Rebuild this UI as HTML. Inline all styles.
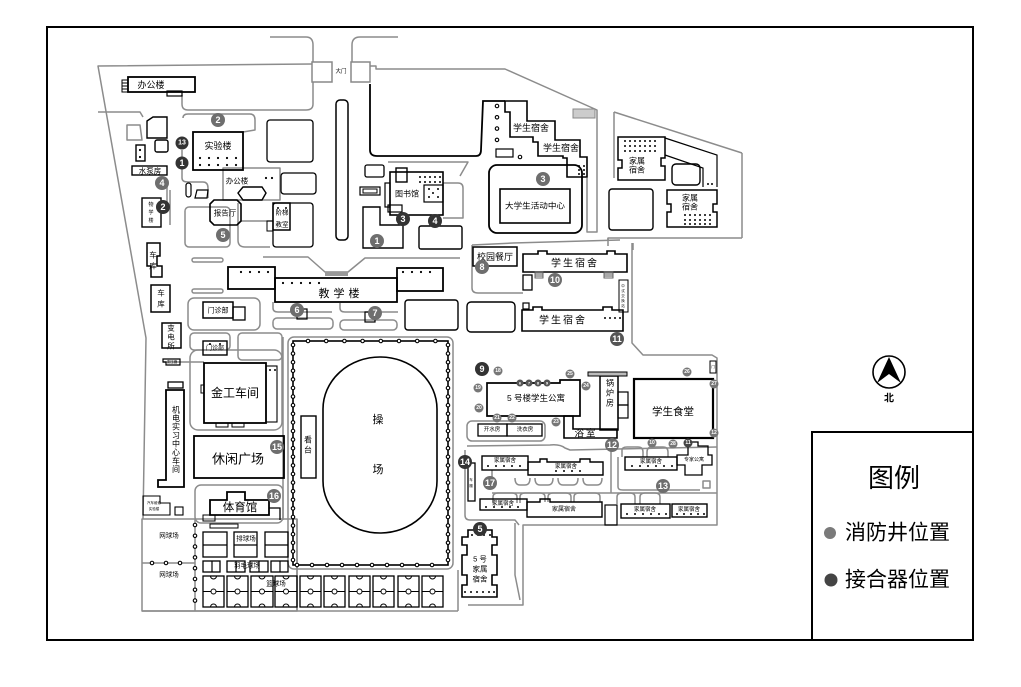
<!DOCTYPE html>
<html><head><meta charset="utf-8"><style>
html,body{margin:0;padding:0;background:#fff;}
svg{display:block;}
text{font-family:"Liberation Sans","Noto Sans CJK SC",sans-serif;}
</style></head><body>
<svg width="1021" height="687" viewBox="0 0 1021 687" xmlns="http://www.w3.org/2000/svg">
<rect width="1021" height="687" fill="#fff"/>
<!-- frame -->
<rect x="47" y="27" width="926" height="613" fill="none" stroke="#000" stroke-width="2"/>
<rect x="812" y="432" width="161" height="208" fill="none" stroke="#000" stroke-width="2"/>

<!-- ROADS (gray) -->
<g fill="none" stroke="#8c8c8c" stroke-width="1.5" stroke-linejoin="round">
 <path d="M312,64 L98,66 L146,338 L143,519"/>
 <path d="M270,37 L306,37 Q313,37 313,45 L313,62"/>
 <path d="M313,82 L313,104 Q313,110 306,110 L188,110 Q182,110 182,104 L182,95"/>
 <path d="M398,37 L360,37 Q352,37 352,45 L352,62"/>
 <path d="M370,66 L376,66 L376,69 L505,69 L597,110 L597,232 L587,232 L587,178"/>
 <path d="M98,112 L140,112 L143,117"/>
 <path d="M127,125 L140,125 L142,140 L127,140 Z"/>
 <path d="M183,118 Q183,114 188,114 L250,114 Q255,114 255,120 L255,130 L243,132"/>
 <path d="M182,150 L182,178 Q182,182 188,182 L203,182 Q208,182 208,188 L208,198"/>
 <rect x="223" y="168" width="57" height="32"/>
 <rect x="185" y="207" width="45" height="40" rx="4"/>
 <path d="M238,203 L238,240 Q238,247 245,247 L270,247"/>
 <path d="M241,221 L273,221"/>
 <path d="M167,183 L167,210 M170,190 L170,225"/>
 <path d="M388,162 L468,162 L460,176"/>
 <path d="M443,183 L458,183 Q463,183 463,188 L463,218 L443,218"/>
 <path d="M263,257 L308,257 L325,272 L348,272 L365,258 L460,258"/>
 <rect x="192" y="258" width="31" height="4" rx="2"/>
 <rect x="192" y="289" width="31" height="4" rx="2"/>
 <rect x="188" y="298" width="72" height="32" rx="6"/>
 <path d="M273,302 L273,308 Q273,312 278,312 L332,312"/>
 <path d="M340,303 L340,308 Q340,312 345,312 L398,312"/>
 <rect x="273" y="318" width="60" height="11" rx="4"/>
 <rect x="340" y="320" width="57" height="10" rx="4"/>
 <rect x="190" y="333" width="40" height="17" rx="4"/>
 <rect x="238" y="333" width="44" height="27" rx="4"/>
 <rect x="190" y="350" width="92" height="80" rx="8"/>
 <path d="M163,362 L204,362"/>
 <path d="M283,337 L283,520"/>
 <rect x="195" y="485" width="88" height="38" rx="6"/>
 <rect x="288" y="337" width="165" height="232" rx="6"/>
 <rect x="142" y="519" width="155" height="92"/>
 <path d="M195,519 L195,611 M142,563 L195,563 M142,611 L458,611"/>
 <path d="M458,611 L458,570 M297,519 L297,611"/>
 <!-- right center roads -->
 <path d="M513,243 L620,240 M608,241 L608,238 L742,238 M742,153 L742,238"/>
 <path d="M472,245 L472,288 Q472,293 478,293 L523,293 M472,245 L513,243"/>
 <path d="M632,243 L632,343 L643,355 L712,355 L717,358 L717,525 L523,525 L523,605 L468,605"/>
 <path d="M614,112 L742,153 M614,112 L614,178"/>
 <path d="M608,246 L608,238 M633,243 L633,250"/>
 <rect x="467" y="421" width="78" height="20" rx="5"/>
 <path d="M467,446 L550,445 Q560,444 565,448 L570,450 L717,447"/>
 <path d="M465,450 L465,515 Q465,520 470,520 L515,520 L519,525"/>
 <path d="M515,523 L515,575 L520,600"/>
 <path d="M611,447 L611,493 M492,493 L717,493"/>
 <path d="M492,478 L492,470 M515,478 Q515,485 520,485 L525,485 Q530,485 530,478 M535,478 Q535,485 540,485 L548,485 Q553,485 553,478 M558,478 Q558,485 563,485 L573,485 Q578,485 578,478 M583,478 Q583,485 588,485 L597,485 Q602,485 602,478"/>
 <path d="M493,503 L493,497 Q493,493 498,493 L512,493 Q517,493 517,497 L517,503 M520,503 L520,497 Q520,493 525,493 L540,493 Q545,493 545,497 L545,502 M548,502 L548,497 Q548,493 553,493 L566,493 Q571,493 571,497 L571,502 M574,502 L574,497 Q574,493 579,493 L595,493 Q600,493 600,497 L600,502 M617,504 L617,497 Q617,493 622,493 L630,493 Q635,493 635,497 L635,504 M640,504 L640,497 Q640,493 645,493 L655,493 Q660,493 660,497 L660,504"/>
 <path d="M622,457 L622,450 Q622,447 627,447 L638,447 Q643,447 643,452 L643,457 M647,457 L647,452 Q647,447 652,447 L663,447 Q668,447 668,452 L668,457"/>
 <path d="M618,457 L618,487 Q618,490 623,490 L700,490"/>
 <rect x="703" y="481" width="7" height="7"/>
</g>

<!-- BUILDINGS black -->
<g fill="none" stroke="#000" stroke-width="1.8" stroke-linejoin="miter">
 <rect x="128" y="77" width="67" height="15"/>
 <rect x="122" y="80" width="6" height="12" stroke-width="1"/>
 <path d="M122,83 L128,83 M122,86 L128,86 M122,89 L128,89" stroke-width="1"/>
 <rect x="167" y="91" width="15" height="5" stroke-width="1.2"/>
 <rect x="193" y="132" width="50" height="38"/>
 <path d="M147,121 L153,117 L167,117 L167,138 L147,138 Z" stroke-width="1.4"/>
 <rect x="155" y="140" width="13" height="12" rx="2" stroke-width="1.4"/>
 <rect x="136" y="145" width="9" height="16" stroke-width="1.4"/>
 <rect x="132" y="166" width="35" height="9" stroke-width="1.4"/>
 <rect x="142" y="198" width="19" height="29" stroke-width="1.4"/>
 <rect x="186" y="183" width="5" height="14" rx="2.5" stroke-width="1.2"/>
 <path d="M197,190 L208,190 L207,198 L195,198 Z" stroke-width="1.2"/>
 <polygon points="214,200 237,200 241,204 241,221 237,225 214,225 210,221 210,204" stroke-width="1.6"/>
 <polygon points="243,187 262,187 266,193 262,200 243,200 238,193" stroke-width="1.4"/>
 <rect x="273" y="203" width="17" height="27" stroke-width="1.5"/>
 <rect x="267" y="221" width="6" height="10" stroke-width="1"/>
 <rect x="267" y="120" width="46" height="42" rx="3" stroke-width="1.3"/>
 <rect x="281" y="173" width="35" height="21" rx="3" stroke-width="1.3"/>
 <rect x="273" y="203" width="40" height="44" rx="3" stroke-width="1.3"/>
 <rect x="336" y="100" width="12" height="140" rx="4" stroke-width="1.5"/>
 <path d="M370,84 L370,150 Q370,156 377,156 L476,156 Q481,156 481,150 L483,101 L505,101" stroke-width="1.8"/>
 <polygon points="505,101 527,101 527,121 555,121 555,140 580,140 580,157 587,157 587,177 567,177 567,158 563,158 563,156 538,156 538,142 533,142 533,137 510,137 510,112 505,112" stroke-width="1.6"/>
 <rect x="496" y="149" width="17" height="8" stroke-width="1.2"/>
 <rect x="489" y="165" width="93" height="68" rx="8"/>
 <rect x="500" y="189" width="70" height="34" stroke-width="1.6"/>
 <!-- library -->
 <rect x="390" y="172" width="53" height="43" stroke-width="1.6"/>
 <rect x="396" y="168" width="11" height="14" stroke-width="1.4"/>
 <rect x="385" y="183" width="5" height="24" stroke-width="1.2"/>
 <rect x="388" y="205" width="14" height="7" stroke-width="1.2"/>
 <rect x="424" y="185" width="19" height="17" stroke-width="1.2"/>
 <rect x="360" y="187" width="20" height="8" stroke-width="1.2"/>
 <rect x="363" y="189" width="14" height="4" stroke-width="1"/>
 <rect x="365" y="165" width="19" height="12" rx="2" stroke-width="1.3"/>
 <path d="M363,207 L380,207 L380,225 L403,225 L403,248 L363,248 Z" stroke-width="1.4"/>
 <rect x="419" y="226" width="43" height="23" rx="2" stroke-width="1.4"/>
 <rect x="405" y="300" width="53" height="30" rx="3" stroke-width="1.4"/>
 <rect x="467" y="302" width="48" height="30" rx="4" stroke-width="1.4"/>
 <!-- top right family -->
 <path d="M618,137 L665,137 L665,158 L661,158 L661,166 L665,166 L665,180 L618,180 L618,168 L622,168 L622,160 L618,160 Z" stroke-width="1.5"/>
 <path d="M665,138 L717,155 L717,187 M665,155 L703,168 L703,187" stroke-width="1.2"/>
 <rect x="672" y="164" width="28" height="21" rx="4" stroke-width="1.4"/>
 <path d="M667,190 L717,190 L717,204 L713,204 L713,212 L717,212 L717,227 L667,227 L667,212 L671,212 L671,204 L667,204 Z" stroke-width="1.5"/>
 <rect x="609" y="189" width="44" height="41" rx="3" stroke-width="1.4"/>
 <!-- teaching building -->
 <rect x="275" y="278" width="122" height="24"/>
 <rect x="228" y="267" width="47" height="22"/>
 <rect x="397" y="268" width="46" height="23"/>
 <rect x="297" y="309" width="10" height="10" stroke-width="1.2"/>
 <rect x="365" y="312" width="10" height="10" stroke-width="1.2"/>
 <rect x="203" y="302" width="30" height="16" stroke-width="1.5"/>
 <rect x="233" y="307" width="12" height="13" stroke-width="1.3"/>
 <path d="M147,243 L160,243 L160,256 L157,256 L157,266 L162,266 L162,277 L151,277 L151,266 L147,266 Z" stroke-width="1.5"/>
 <rect x="151" y="285" width="19" height="27" stroke-width="1.5"/>
 <rect x="162" y="323" width="19" height="25" stroke-width="1.5"/>
 <rect x="203" y="341" width="24" height="14" stroke-width="1.4"/>
 <path d="M163,359 L180,359 L180,365 L166,365 L166,362 L163,362 Z" stroke-width="1.2"/>
 <!-- left middle -->
 <rect x="204" y="363" width="62" height="60"/>
 <rect x="266" y="366" width="11" height="56" stroke-width="1.1"/>
 <rect x="201" y="385" width="3" height="8" stroke-width="1"/>
 <rect x="216" y="423" width="12" height="4" stroke-width="1"/>
 <rect x="232" y="423" width="12" height="4" stroke-width="1"/>
 <rect x="194" y="436" width="90" height="42"/>
 <path d="M227,492 L245,492 L245,500 L269,500 L269,515 L210,515 L210,500 L227,500 Z" stroke-width="1.8"/>
 <rect x="203" y="515" width="12" height="6" stroke-width="1"/>
 <path d="M269,508 L280,508 L280,520" stroke-width="1.3"/>
 <path d="M166,390 L184,390 L184,487 L158,487 L158,480 L166,480 Z" stroke-width="1.8"/>
 <rect x="168" y="382" width="15" height="6" stroke-width="1.3"/>
 <path d="M143,496 L160,496 L160,503 L170,503 L170,515 L143,515 Z" stroke-width="1.1"/>
 <rect x="175" y="507" width="8" height="8" stroke-width="1.1"/>
 <rect x="301" y="416" width="15" height="62" stroke-width="1.4"/>
 <!-- stadium track -->
 <rect x="323" y="357" width="114" height="176" rx="57" ry="52" stroke-width="1.6"/>
 <!-- courts -->
 <rect x="210" y="524" width="28" height="4" stroke-width="1"/>
 <rect x="203" y="532" width="24" height="25" stroke-width="1.3"/>
 <rect x="234" y="532" width="23" height="25" stroke-width="1.3"/>
 <rect x="265" y="532" width="23" height="25" stroke-width="1.3"/>
 <path d="M203,545 L227,545 M234,545 L257,545 M265,545 L288,545" stroke-width="1.2"/>
 <rect x="203" y="561" width="17" height="11" stroke-width="1.3"/>
 <rect x="227" y="561" width="18" height="11" stroke-width="1.3"/>
 <rect x="250" y="561" width="18" height="11" stroke-width="1.3"/>
 <rect x="271" y="561" width="17" height="11" stroke-width="1.3"/>
 <path d="M212,561 L212,572 M236,561 L236,572 M259,561 L259,572 M280,561 L280,572" stroke-width="1.2"/>
 <!-- right center -->
 <rect x="473" y="247" width="44" height="19" stroke-width="1.5"/>
 <polygon points="523,254 538,254 538,251 547,251 547,254 607,254 607,251 615,251 615,254 627,254 627,272 523,272" stroke-width="1.6"/>
 <rect x="523" y="275" width="9" height="15" stroke-width="1.3"/>
 <polygon points="522,310 533,310 533,307 542,307 542,310 603,310 603,307 612,307 612,310 623,310 623,331 522,331" stroke-width="1.6"/>
 <rect x="523" y="303" width="6" height="6" stroke-width="1.2"/>
 <rect x="619" y="280" width="9" height="32" stroke-width="1"/>
 <rect x="710" y="361" width="6" height="12" stroke-width="1"/>
 <polygon points="487,383 560,383 560,380 580,380 580,416 487,416" stroke-width="1.7"/>
 <rect x="478" y="424" width="29" height="12" stroke-width="1.3"/>
 <rect x="507" y="424" width="35" height="12" stroke-width="1.3"/>
 <polygon points="564,416 573,416 573,429 617,429 617,438 564,438" stroke-width="1.6"/>
 <rect x="600" y="376" width="18" height="54" stroke-width="1.5"/>
 <rect x="588" y="372" width="39" height="4" stroke-width="1" fill="#bbb"/>
 <rect x="618" y="392" width="10" height="13" stroke-width="1.2"/>
 <rect x="618" y="405" width="10" height="13" stroke-width="1.2"/>
 <rect x="634" y="379" width="79" height="59" stroke-width="2.2"/>
 <rect x="625" y="457" width="52" height="13" stroke-width="1.4"/>
 <polygon points="688,442 698,442 698,446 708,446 708,455 712,455 712,465 702,465 702,475 685,475 685,465 677,465 677,455 688,455" stroke-width="1.3"/>
 <rect x="482" y="456" width="46" height="14" stroke-width="1.4"/>
 <polygon points="528,462 540,462 540,459 547,459 547,462 580,462 580,459 590,459 590,462 603,462 603,475 528,475" stroke-width="1.4"/>
 <rect x="468" y="463" width="7" height="38" stroke-width="1.3"/>
 <rect x="480" y="499" width="47" height="11" stroke-width="1.4"/>
 <polygon points="527,502 540,502 540,499 550,499 550,502 602,502 602,517 527,517" stroke-width="1.4"/>
 <rect x="605" y="505" width="12" height="20" stroke-width="1.2"/>
 <rect x="621" y="504" width="49" height="14" stroke-width="1.4"/>
 <rect x="672" y="504" width="35" height="13" stroke-width="1.4"/>
 <polygon points="468,530 492,530 492,537 497,537 497,545 492,545 492,555 497,555 497,575 492,575 492,585 497,585 497,597 462,597 462,585 467,585 467,575 462,575 462,555 467,555 467,545 462,545 462,537 468,537" stroke-width="1.6"/>
</g>

<!-- basketball courts -->
<g fill="none" stroke="#000" stroke-width="1.3">
 <rect x="203" y="576" width="21" height="31"/><rect x="227" y="576" width="21" height="31"/>
 <rect x="251" y="576" width="22" height="31"/><rect x="275" y="576" width="22" height="31"/>
 <rect x="300" y="576" width="21" height="31"/><rect x="324" y="576" width="21" height="31"/>
 <rect x="349" y="576" width="21" height="31"/><rect x="373" y="576" width="21" height="31"/>
 <rect x="398" y="576" width="21" height="31"/><rect x="422" y="576" width="21" height="31"/>
 <path stroke-width="1" d="M203,591.5 h21 M227,591.5 h21 M251,591.5 h22 M275,591.5 h22 M300,591.5 h21 M324,591.5 h21 M349,591.5 h21 M373,591.5 h21 M398,591.5 h21 M422,591.5 h21"/>
 <path stroke-width="1" d="M210.5,576 a3,3 0 0 0 6,0 M234.5,576 a3,3 0 0 0 6,0 M259,576 a3,3 0 0 0 6,0 M283,576 a3,3 0 0 0 6,0 M307.5,576 a3,3 0 0 0 6,0 M331.5,576 a3,3 0 0 0 6,0 M356.5,576 a3,3 0 0 0 6,0 M380.5,576 a3,3 0 0 0 6,0 M405.5,576 a3,3 0 0 0 6,0 M429.5,576 a3,3 0 0 0 6,0"/>
 <path stroke-width="1" d="M210.5,607 a3,3 0 0 1 6,0 M234.5,607 a3,3 0 0 1 6,0 M259,607 a3,3 0 0 1 6,0 M283,607 a3,3 0 0 1 6,0 M307.5,607 a3,3 0 0 1 6,0 M331.5,607 a3,3 0 0 1 6,0 M356.5,607 a3,3 0 0 1 6,0 M380.5,607 a3,3 0 0 1 6,0 M405.5,607 a3,3 0 0 1 6,0 M429.5,607 a3,3 0 0 1 6,0"/>
 <g fill="#fff" stroke-width="1">
  <circle cx="213.5" cy="591.5" r="2.5"/><circle cx="237.5" cy="591.5" r="2.5"/><circle cx="262" cy="591.5" r="2.5"/><circle cx="286" cy="591.5" r="2.5"/><circle cx="310.5" cy="591.5" r="2.5"/><circle cx="334.5" cy="591.5" r="2.5"/><circle cx="359.5" cy="591.5" r="2.5"/><circle cx="383.5" cy="591.5" r="2.5"/><circle cx="408.5" cy="591.5" r="2.5"/><circle cx="432.5" cy="591.5" r="2.5"/>
 </g>
</g>

<!-- stadium fence with hydrant rings -->
<g fill="none" stroke-linecap="round">
 <rect x="293" y="341" width="155" height="224" stroke="#000" stroke-width="1.6"/>
 <g stroke="#000" stroke-width="4.6">
  <path d="M293,345 L293,562" stroke-dasharray="0 8.6"/>
  <path d="M448,345 L448,562" stroke-dasharray="0 8.6"/>
  <path d="M308,341 L436,341" stroke-dasharray="0 18.2"/>
  <path d="M297,565 L447,565" stroke-dasharray="0 15"/>
  <path d="M195,525 L195,601" stroke-dasharray="0 10.8"/>
  <path d="M152,563 L182,563" stroke-dasharray="0 14"/>
  <path d="M497,106 L497,140" stroke-dasharray="0 11.3"/>
  <path d="M520,157 L530,157" stroke-dasharray="0 10"/>
 </g>
 <g stroke="#fff" stroke-width="2.4">
  <path d="M293,345 L293,562" stroke-dasharray="0 8.6"/>
  <path d="M448,345 L448,562" stroke-dasharray="0 8.6"/>
  <path d="M308,341 L436,341" stroke-dasharray="0 18.2"/>
  <path d="M297,565 L447,565" stroke-dasharray="0 15"/>
  <path d="M195,525 L195,601" stroke-dasharray="0 10.8"/>
  <path d="M152,563 L182,563" stroke-dasharray="0 14"/>
  <path d="M497,106 L497,140" stroke-dasharray="0 11.3"/>
  <path d="M520,157 L530,157" stroke-dasharray="0 10"/>
 </g>
</g>

<!-- gray strips -->
<rect x="325" y="272" width="23" height="4" fill="#999"/>
<rect x="573" y="109" width="22" height="9" fill="#ccc" stroke="#888" stroke-width="1"/>
<rect x="312" y="62" width="20" height="20" fill="none" stroke="#888" stroke-width="1.5"/>
<rect x="351" y="62" width="19" height="20" fill="none" stroke="#888" stroke-width="1.5"/>
<g fill="none" stroke="#555" stroke-width="0.9">
 <rect x="535" y="272" width="8" height="6"/><rect x="604" y="272" width="9" height="6"/>
 <path d="M535,274 h8 M535,276 h8 M604,274 h9 M604,276 h9"/>
</g>

<!-- small black dots -->
<g fill="#000">
 <circle cx="200" cy="158" r="1.1"/><circle cx="209" cy="158" r="1.1"/><circle cx="218" cy="158" r="1.1"/><circle cx="227" cy="158" r="1.1"/><circle cx="236" cy="158" r="1.1"/>
 <circle cx="200" cy="165" r="1.1"/><circle cx="209" cy="165" r="1.1"/><circle cx="218" cy="165" r="1.1"/><circle cx="227" cy="165" r="1.1"/><circle cx="236" cy="165" r="1.1"/>
 <circle cx="140" cy="150" r="1.1"/><circle cx="140" cy="157" r="1.1"/>
 <circle cx="266" cy="178" r="1.1"/><circle cx="272" cy="178" r="1.1"/>
 <circle cx="278" cy="208" r="1"/><circle cx="286" cy="208" r="1"/>
 <circle cx="420" cy="177" r="1"/><circle cx="425" cy="177" r="1"/><circle cx="430" cy="177" r="1"/><circle cx="435" cy="177" r="1"/><circle cx="440" cy="177" r="1"/>
 <circle cx="420" cy="182" r="1"/><circle cx="425" cy="182" r="1"/><circle cx="430" cy="182" r="1"/><circle cx="435" cy="182" r="1"/><circle cx="440" cy="182" r="1"/>
 <circle cx="429" cy="189" r="1"/><circle cx="438" cy="189" r="1"/><circle cx="433" cy="193" r="1"/><circle cx="429" cy="197" r="1"/><circle cx="438" cy="197" r="1"/>
 <circle cx="579" cy="166" r="1"/><circle cx="584" cy="166" r="1"/><circle cx="579" cy="170" r="1"/><circle cx="584" cy="170" r="1"/><circle cx="579" cy="174" r="1"/><circle cx="584" cy="174" r="1"/>
 <circle cx="625" cy="141" r="1"/><circle cx="630" cy="141" r="1"/><circle cx="635" cy="141" r="1"/><circle cx="640" cy="141" r="1"/><circle cx="645" cy="141" r="1"/><circle cx="650" cy="141" r="1"/><circle cx="655" cy="141" r="1"/>
 <circle cx="625" cy="146" r="1"/><circle cx="630" cy="146" r="1"/><circle cx="635" cy="146" r="1"/><circle cx="640" cy="146" r="1"/><circle cx="645" cy="146" r="1"/><circle cx="650" cy="146" r="1"/><circle cx="655" cy="146" r="1"/>
 <circle cx="625" cy="151" r="1"/><circle cx="630" cy="151" r="1"/><circle cx="635" cy="151" r="1"/><circle cx="640" cy="151" r="1"/><circle cx="645" cy="151" r="1"/><circle cx="650" cy="151" r="1"/><circle cx="655" cy="151" r="1"/>
 <circle cx="685" cy="215" r="1"/><circle cx="690" cy="215" r="1"/><circle cx="695" cy="215" r="1"/><circle cx="700" cy="215" r="1"/><circle cx="705" cy="215" r="1"/><circle cx="710" cy="215" r="1"/>
 <circle cx="685" cy="220" r="1"/><circle cx="690" cy="220" r="1"/><circle cx="695" cy="220" r="1"/><circle cx="700" cy="220" r="1"/><circle cx="705" cy="220" r="1"/><circle cx="710" cy="220" r="1"/>
 <circle cx="685" cy="224" r="1"/><circle cx="690" cy="224" r="1"/><circle cx="695" cy="224" r="1"/><circle cx="700" cy="224" r="1"/><circle cx="705" cy="224" r="1"/><circle cx="710" cy="224" r="1"/>
 <circle cx="708" cy="184" r="1"/><circle cx="712" cy="184" r="1"/>
 <circle cx="241" cy="272" r="1.1"/><circle cx="250" cy="272" r="1.1"/><circle cx="259" cy="272" r="1.1"/><circle cx="268" cy="272" r="1.1"/>
 <circle cx="283" cy="283" r="1.1"/><circle cx="292" cy="283" r="1.1"/><circle cx="301" cy="283" r="1.1"/><circle cx="310" cy="283" r="1.1"/><circle cx="319" cy="283" r="1.1"/>
 <circle cx="403" cy="272" r="1.1"/><circle cx="412" cy="272" r="1.1"/><circle cx="421" cy="272" r="1.1"/><circle cx="430" cy="272" r="1.1"/>
 <circle cx="210" cy="344" r="1"/><circle cx="220" cy="344" r="1"/>
 <circle cx="270" cy="370" r="1"/><circle cx="275" cy="370" r="1"/>
 <circle cx="605" cy="318" r="1"/><circle cx="610" cy="318" r="1"/><circle cx="615" cy="318" r="1"/><circle cx="620" cy="318" r="1"/>
 <circle cx="632" cy="466" r="1"/><circle cx="640" cy="466" r="1"/><circle cx="648" cy="466" r="1"/><circle cx="656" cy="466" r="1"/><circle cx="664" cy="466" r="1"/><circle cx="672" cy="466" r="1"/>
 <circle cx="488" cy="466" r="1"/><circle cx="496" cy="466" r="1"/><circle cx="504" cy="466" r="1"/><circle cx="512" cy="466" r="1"/><circle cx="520" cy="466" r="1"/>
 <circle cx="556" cy="471" r="1"/><circle cx="564" cy="471" r="1"/><circle cx="572" cy="471" r="1"/><circle cx="580" cy="471" r="1"/>
 <circle cx="486" cy="507" r="1"/><circle cx="494" cy="507" r="1"/><circle cx="502" cy="507" r="1"/><circle cx="510" cy="507" r="1"/><circle cx="518" cy="507" r="1"/>
 <circle cx="627" cy="514" r="1"/><circle cx="635" cy="514" r="1"/><circle cx="643" cy="514" r="1"/><circle cx="651" cy="514" r="1"/><circle cx="659" cy="514" r="1"/><circle cx="666" cy="514" r="1"/>
 <circle cx="677" cy="514" r="1"/><circle cx="684" cy="514" r="1"/><circle cx="691" cy="514" r="1"/><circle cx="698" cy="514" r="1"/><circle cx="704" cy="514" r="1"/>
 <circle cx="472" cy="535" r="1"/><circle cx="478" cy="535" r="1"/><circle cx="484" cy="535" r="1"/><circle cx="490" cy="535" r="1"/>
 <circle cx="465" cy="592" r="1"/><circle cx="471" cy="592" r="1"/><circle cx="477" cy="592" r="1"/><circle cx="483" cy="592" r="1"/><circle cx="489" cy="592" r="1"/><circle cx="494" cy="592" r="1"/>
</g>

<!-- LABELS -->
<g fill="#000" text-anchor="middle" dominant-baseline="central">
 <text x="151" y="85" font-size="9">办公楼</text>
 <text x="218" y="146" font-size="9">实验楼</text>
 <text x="150" y="171" font-size="7.5">水泵房</text>
 <text x="237" y="181" font-size="7.5">办公楼</text>
 <text x="225" y="213" font-size="7.5">报告厅</text>
 <text x="282" y="213" font-size="6.5">阶梯</text>
 <text x="282" y="225" font-size="6.5">教室</text>
 <text x="151" y="205" font-size="5">物</text><text x="151" y="213" font-size="5">学</text><text x="151" y="221" font-size="5">楼</text>
 <text x="341" y="72" font-size="5.5">大门</text>
 <text x="407" y="194" font-size="8">图书馆</text>
 <text x="531" y="128" font-size="9">学生宿舍</text>
 <text x="561" y="148" font-size="9">学生宿舍</text>
 <text x="535" y="206" font-size="8" textLength="60" lengthAdjust="spacingAndGlyphs">大学生活动中心</text>
 <text x="637" y="161" font-size="8">家属</text><text x="637" y="170" font-size="8">宿舍</text>
 <text x="690" y="198" font-size="8">家属</text><text x="690" y="207" font-size="8">宿舍</text>
 <text x="495" y="257" font-size="9">校园餐厅</text>
 <text x="575" y="264" font-size="10" letter-spacing="2">学生宿舍</text>
 <text x="563" y="321" font-size="10" letter-spacing="2">学生宿舍</text>
 <text x="623" y="286" font-size="3.5">中</text><text x="623" y="291" font-size="3.5">试</text><text x="623" y="296" font-size="3.5">交</text><text x="623" y="301" font-size="3.5">换</text><text x="623" y="306" font-size="3.5">站</text>
 <text x="341" y="294" font-size="11" letter-spacing="4">教学楼</text>
 <text x="218" y="311" font-size="7">门诊部</text>
 <text x="215" y="349" font-size="6">门诊部</text>
 <text x="153" y="255" font-size="7.5">车</text><text x="153" y="266" font-size="7.5">库</text>
 <text x="161" y="293" font-size="7.5">车</text><text x="161" y="304" font-size="7.5">库</text>
 <text x="171" y="328" font-size="7.5">变</text><text x="171" y="337" font-size="7.5">电</text><text x="171" y="346" font-size="7.5">所</text>
 <text x="172" y="362" font-size="3.5">变压器</text>
 <text x="235" y="393" font-size="12">金工车间</text>
 <text x="176" y="410" font-size="8">机</text><text x="176" y="418.5" font-size="8">电</text><text x="176" y="427" font-size="8">实</text><text x="176" y="435.5" font-size="8">习</text><text x="176" y="444" font-size="8">中</text><text x="176" y="452.5" font-size="8">心</text><text x="176" y="461" font-size="8">车</text><text x="176" y="469.5" font-size="8">间</text>
 <text x="238" y="459" font-size="13">休闲广场</text>
 <text x="240" y="508" font-size="11.5">体育馆</text>
 <text x="154" y="503" font-size="3.5">汽车维修</text>
 <text x="154" y="509" font-size="3.5">实验楼</text>
 <text x="308" y="440" font-size="8">看</text><text x="308" y="450" font-size="8">台</text>
 <text x="378" y="420" font-size="11">操</text>
 <text x="378" y="470" font-size="11">场</text>
 <text x="169" y="536" font-size="6.5">网球场</text>
 <text x="169" y="575" font-size="6.5">网球场</text>
 <text x="246" y="539" font-size="6.5">排球场</text>
 <text x="247" y="566" font-size="6.5">羽毛球场</text>
 <text x="276" y="584" font-size="6.5">篮球场</text>
 <text x="536" y="398" font-size="8.5">5 号楼学生公寓</text>
 <text x="492" y="430" font-size="5.5">开水房</text>
 <text x="525" y="430" font-size="5.5">洗衣房</text>
 <text x="610" y="383" font-size="8">锅</text><text x="610" y="393" font-size="8">炉</text><text x="610" y="403" font-size="8">房</text>
 <text x="586" y="434" font-size="9.5" letter-spacing="2">浴室</text>
 <text x="673" y="412" font-size="10.5">学生食堂</text>
 <text x="651" y="462" font-size="5.5">家属宿舍</text>
 <text x="694" y="460" font-size="5">专家公寓</text>
 <text x="505" y="461" font-size="5.5">家属宿舍</text>
 <text x="566" y="467" font-size="5.5">家属宿舍</text>
 <text x="503" y="504" font-size="5.5">家属宿舍</text>
 <text x="564" y="510" font-size="6">家属宿舍</text>
 <text x="645" y="510" font-size="5.5">家属宿舍</text>
 <text x="689" y="510" font-size="5.5">家属宿舍</text>
 <text x="471" y="480" font-size="3.5">车</text><text x="471" y="486" font-size="3.5">棚</text>
 <text x="713" y="367" font-size="3.5">门</text>
 <text x="480" y="559" font-size="7.5">5 号</text>
 <text x="480" y="569" font-size="7.5">家属</text>
 <text x="480" y="579" font-size="7.5">宿舍</text>
</g>

<!-- numbered markers -->
<g text-anchor="middle" dominant-baseline="central" font-weight="bold" fill="#fff">
 <g font-size="9">
  <circle cx="218" cy="120" r="7" fill="#6e6e6e"/><text x="218" y="120">2</text>
  <circle cx="162" cy="183" r="7" fill="#6e6e6e"/><text x="162" y="183">4</text>
  <circle cx="223" cy="235" r="7" fill="#6e6e6e"/><text x="223" y="235">5</text>
  <circle cx="543" cy="179" r="7" fill="#6e6e6e"/><text x="543" y="179">3</text>
  <circle cx="377" cy="241" r="7" fill="#6e6e6e"/><text x="377" y="241">1</text>
  <circle cx="297" cy="310" r="7" fill="#6e6e6e"/><text x="297" y="310">6</text>
  <circle cx="375" cy="313" r="7" fill="#6e6e6e"/><text x="375" y="313">7</text>
  <circle cx="482" cy="267" r="7" fill="#6e6e6e"/><text x="482" y="267">8</text>
  <circle cx="555" cy="280" r="7" fill="#6e6e6e"/><text x="555" y="280">10</text>
  <circle cx="617" cy="339" r="7" fill="#555"/><text x="617" y="339">11</text>
  <circle cx="277" cy="447" r="7" fill="#6e6e6e"/><text x="277" y="447">15</text>
  <circle cx="274" cy="496" r="7" fill="#6e6e6e"/><text x="274" y="496">16</text>
  <circle cx="663" cy="486" r="7" fill="#6e6e6e"/><text x="663" y="486">13</text>
  <circle cx="612" cy="445" r="7" fill="#6e6e6e"/><text x="612" y="445">12</text>
  <circle cx="490" cy="483" r="7" fill="#6e6e6e"/><text x="490" y="483">17</text>
  <circle cx="182" cy="143" r="6.5" fill="#333"/><text x="182" y="143" font-size="7">13</text>
  <circle cx="182" cy="163" r="6.5" fill="#333"/><text x="182" y="163">1</text>
  <circle cx="163" cy="207" r="7" fill="#333"/><text x="163" y="207">2</text>
  <circle cx="403" cy="219" r="7" fill="#333"/><text x="403" y="219">3</text>
  <circle cx="435" cy="221" r="7" fill="#333"/><text x="435" y="221">4</text>
  <circle cx="482" cy="369" r="7" fill="#333"/><text x="482" y="369">9</text>
  <circle cx="465" cy="462" r="7" fill="#333"/><text x="465" y="462">14</text>
  <circle cx="480" cy="529" r="7" fill="#333"/><text x="480" y="529">5</text>
 </g>
 <g font-size="5">
  <circle cx="498" cy="371" r="4.5" fill="#777"/><text x="498" y="371">18</text>
  <circle cx="478" cy="388" r="4.5" fill="#777"/><text x="478" y="388">19</text>
  <circle cx="479" cy="408" r="4.5" fill="#777"/><text x="479" y="408">20</text>
  <circle cx="497" cy="418" r="4.5" fill="#777"/><text x="497" y="418">21</text>
  <circle cx="512" cy="418" r="4.5" fill="#777"/><text x="512" y="418">22</text>
  <circle cx="556" cy="422" r="4.5" fill="#777"/><text x="556" y="422">23</text>
  <circle cx="586" cy="386" r="4.5" fill="#777"/><text x="586" y="386">24</text>
  <circle cx="570" cy="374" r="4.5" fill="#777"/><text x="570" y="374">25</text>
  <circle cx="687" cy="372" r="4.5" fill="#777"/><text x="687" y="372">26</text>
  <circle cx="714" cy="384" r="4.5" fill="#777"/><text x="714" y="384">27</text>
  <circle cx="714" cy="433" r="4.5" fill="#777"/><text x="714" y="433">12</text>
  <circle cx="652" cy="443" r="4.5" fill="#777"/><text x="652" y="443">10</text>
  <circle cx="673" cy="444" r="4.5" fill="#777"/><text x="673" y="444">28</text>
  <circle cx="688" cy="443" r="4.5" fill="#444"/><text x="688" y="443">11</text>
  <circle cx="520" cy="383" r="3.5" fill="#555"/><text x="520" y="383" font-size="4">6</text>
  <circle cx="529" cy="383" r="3.5" fill="#555"/><text x="529" y="383" font-size="4">7</text>
  <circle cx="538" cy="383" r="3.5" fill="#555"/><text x="538" y="383" font-size="4">8</text>
  <circle cx="547" cy="383" r="3.5" fill="#555"/><text x="547" y="383" font-size="4">9</text>
 </g>
</g>

<!-- north arrow -->
<circle cx="889" cy="372" r="16" fill="none" stroke="#000" stroke-width="1.6"/>
<polygon points="889,357 877,383 889,374 901,383" fill="#000"/>
<text x="889" y="399" font-size="10" font-weight="bold" text-anchor="middle" dominant-baseline="central">北</text>

<!-- legend -->
<text x="894" y="478" font-size="26" text-anchor="middle" dominant-baseline="central">图例</text>
<circle cx="830" cy="533" r="6" fill="#7a7a7a"/>
<text x="845" y="533" font-size="21" dominant-baseline="central">消防井位置</text>
<circle cx="831" cy="580" r="6.5" fill="#444"/>
<text x="845" y="580" font-size="21" dominant-baseline="central">接合器位置</text>
</svg>
</body></html>
